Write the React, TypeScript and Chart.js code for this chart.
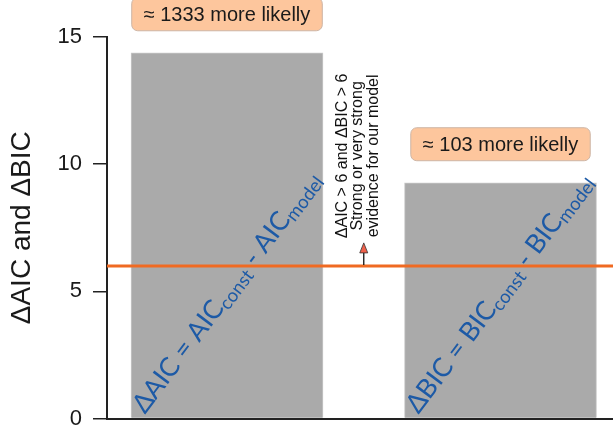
import { useEffect, useRef } from 'react';
import { Chart, registerables } from 'chart.js';

Chart.register(...registerables);

// ---- data ----
const categories = ['ΔAIC', 'ΔBIC'];
const categoryPositions = [1, 2];
const deltaValues = [14.38, 9.27];
const likelihoodLabels = ['≈ 1333 more likelly', '≈ 103 more likelly'];
const formulaParts: [string, 'main' | 'sub'][][] = [
  [['ΔAIC = AIC', 'main'], ['const', 'sub'], [' - AIC', 'main'], ['model', 'sub']],
  [['ΔBIC = BIC', 'main'], ['const', 'sub'], [' - BIC', 'main'], ['model', 'sub']],
];
const threshold = 6;
const thresholdArrowAt = 1.5;
const evidenceLines = ['ΔAIC > 6 and ΔBIC > 6', 'Strong or very strong', 'evidence for our model'];
const yTickValues = [0, 5, 10, 15];
const yTitle = 'ΔAIC and ΔBIC';

// axis bounds (layout)
const X_MIN = 0.5612;
const X_MAX = 2.4113;

const SANS = "'Liberation Sans', Arial, Helvetica, sans-serif";
const HUMANIST = "Lato, 'Open Sans', sans-serif";

const annotationPlugin = {
  id: 'annotations',
  afterDatasetDraw(chart: any, args: any) {
    if (args.meta.type !== 'bar') return;
    const ctx = chart.ctx as CanvasRenderingContext2D;
    args.meta.data.forEach((bar: any, i: number) => {
      const { x, base, width } = bar.getProps(['x', 'base', 'width'], true);
      const left = x - width / 2;
      ctx.save();
      ctx.translate(left + 14, base - 3);
      ctx.rotate((-53 * Math.PI) / 180);
      ctx.fillStyle = '#1d5aa6';
      ctx.textBaseline = 'alphabetic';
      ctx.textAlign = 'left';
      let cx = 0;
      for (const [t, kind] of formulaParts[i]) {
        ctx.font = kind === 'sub' ? `18.5px ${HUMANIST}` : `26.5px ${HUMANIST}`;
        ctx.fillText(t, cx, kind === 'sub' ? 4 : 0);
        cx += ctx.measureText(t).width;
      }
      ctx.restore();
    });
  },
  afterDraw(chart: any) {
    const ctx = chart.ctx as CanvasRenderingContext2D;
    const barIndex = chart.data.datasets.findIndex((d: any) => d.type === 'bar');
    const meta = chart.getDatasetMeta(barIndex);
    const xs = chart.scales.x;
    const ys = chart.scales.y;

    // likelihood boxes
    meta.data.forEach((bar: any, i: number) => {
      const { x, y } = bar.getProps(['x', 'y'], true);
      ctx.save();
      ctx.font = `20px ${SANS}`;
      const tw = ctx.measureText(likelihoodLabels[i]).width;
      const w = tw + 24;
      const h = 33;
      const bottom = y - 22;
      const top = bottom - h;
      ctx.beginPath();
      (ctx as any).roundRect(x - w / 2, top, w, h, 6);
      ctx.fillStyle = '#fdc69d';
      ctx.fill();
      ctx.lineWidth = 1;
      ctx.strokeStyle = '#cdb5a6';
      ctx.stroke();
      ctx.fillStyle = '#1a1a1a';
      ctx.textAlign = 'center';
      ctx.textBaseline = 'middle';
      ctx.fillText(likelihoodLabels[i], x, top + h / 2 + 1);
      ctx.restore();
    });

    // evidence arrow + text
    const ax = xs.getPixelForValue(thresholdArrowAt);
    const ty = ys.getPixelForValue(threshold);
    ctx.save();
    ctx.strokeStyle = '#111';
    ctx.lineWidth = 1.3;
    ctx.beginPath();
    ctx.moveTo(ax, ty - 1);
    ctx.lineTo(ax, ty - 14);
    ctx.stroke();
    ctx.beginPath();
    ctx.moveTo(ax, ty - 23);
    ctx.lineTo(ax - 4, ty - 13);
    ctx.lineTo(ax + 4, ty - 13);
    ctx.closePath();
    ctx.fillStyle = '#f0604a';
    ctx.fill();
    ctx.lineWidth = 0.8;
    ctx.strokeStyle = '#333';
    ctx.stroke();

    ctx.translate(ax - 6, ty - 110);
    ctx.rotate(-Math.PI / 2);
    ctx.font = `16px ${SANS}`;
    ctx.fillStyle = '#111';
    ctx.textAlign = 'center';
    ctx.textBaseline = 'middle';
    evidenceLines.forEach((line, i) => {
      ctx.fillText(line, 0, (i - 1) * 15.5);
    });
    ctx.restore();
  },
};

export default function App() {
  const ref = useRef<HTMLCanvasElement>(null);

  useEffect(() => {
    if (!ref.current) return;
    const chart = new Chart(ref.current, {
      type: 'bar',
      data: {
        labels: categories,
        datasets: [
          {
            type: 'line',
            data: [
              { x: X_MIN, y: threshold },
              { x: X_MAX, y: threshold },
            ],
            borderColor: '#f06a22',
            borderWidth: 3,
            pointRadius: 0,
            order: 0,
          } as any,
          {
            type: 'bar',
            data: categoryPositions.map((p, i) => ({ x: p, y: deltaValues[i] })),
            backgroundColor: '#aaaaaa',
            borderColor: '#c9c9c9',
            borderWidth: 1,
            barThickness: 192,
            order: 1,
          } as any,
        ],
      },
      options: {
        responsive: false,
        animation: false,
        layout: { padding: { top: 37, right: 0, left: 0, bottom: 0 } },
        plugins: { legend: { display: false }, tooltip: { enabled: false } },
        scales: {
          x: {
            type: 'linear',
            min: X_MIN,
            max: X_MAX,
            offset: false,
            ticks: { display: false },
            grid: { display: true, drawOnChartArea: false, drawTicks: false },
            border: { display: true, color: '#222', width: 2 },
            afterFit: (s: any) => {
              s.height = 14.5;
              s.paddingLeft = 0;
              s.paddingRight = 0;
            },
          },
          y: {
            min: 0,
            max: 15,
            afterBuildTicks: (s: any) => {
              s.ticks = yTickValues.map((v) => ({ value: v }));
            },
            ticks: {
              font: { size: 22, family: SANS },
              color: '#1a1a1a',
              padding: 11,
            },
            grid: {
              drawOnChartArea: false,
              drawTicks: true,
              tickLength: 14,
              color: '#222',
              lineWidth: 1.5,
            },
            border: { display: true, color: '#222', width: 2 },
            title: {
              display: true,
              text: yTitle,
              font: { size: 28, family: SANS },
              color: '#1a1a1a',
              padding: { top: 5, bottom: 0 },
            },
            afterFit: (s: any) => {
              s.width = 107;
              s.paddingTop = 0;
              s.paddingBottom = 0;
            },
          },
        },
      },
      plugins: [annotationPlugin],
    });
    return () => chart.destroy();
  }, []);

  return (
    <div style={{ position: 'fixed', left: 0, top: 0, width: 613, height: 433, background: '#fff' }}>
      <canvas ref={ref} width={613} height={433} />
    </div>
  );
}
